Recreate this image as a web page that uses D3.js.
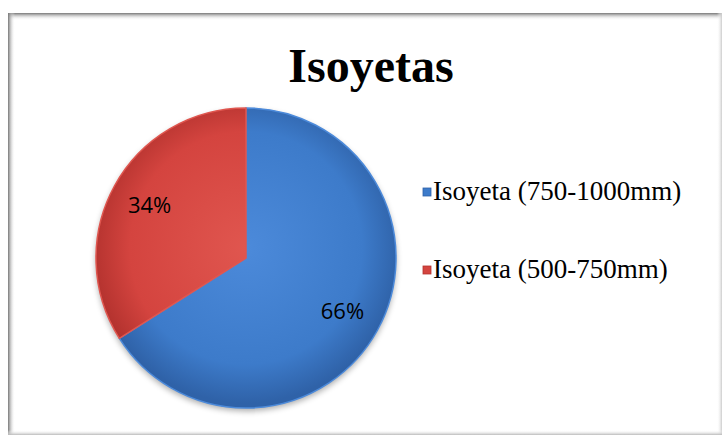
<!doctype html>
<html>
<head>
<meta charset="utf-8">
<title>Isoyetas</title>
<style>
  body { margin: 0; background: #fff; }
  .serif { font-family: "Liberation Serif", Tinos, "Nimbus Roman", "Nimbus Roman No9 L", Times, FreeSerif, "Noto Serif", "DejaVu Serif", serif; }
</style>
</head>
<body>
<script src="https://d3js.org/d3.v7.min.js"></script>
<script>
// data
var categories = ["Isoyeta (750-1000mm)", "Isoyeta (500-750mm)"];
var values = [66, 34];
var pctLabels = ["66%", "34%"];
var colors = ["#3d7bca", "#d4443f"];
var darkColors = ["#2f62a8", "#b3322e"];
var lightColors = ["#4c8ada", "#e0564f"];

var w = 722, h = 438;
var svg = d3.select("body").append("svg")
    .attr("width", w)
    .attr("height", h);

var defs = svg.append("defs");

// frame shadow gradients
var gTop = defs.append("linearGradient").attr("id", "gTop")
    .attr("x1", 0).attr("y1", 0).attr("x2", 0).attr("y2", 1);
gTop.append("stop").attr("offset", "0%").attr("stop-color", "#777");
gTop.append("stop").attr("offset", "100%").attr("stop-color", "#fff").attr("stop-opacity", 0);
var gLeft = defs.append("linearGradient").attr("id", "gLeft")
    .attr("x1", 0).attr("y1", 0).attr("x2", 1).attr("y2", 0);
gLeft.append("stop").attr("offset", "0%").attr("stop-color", "#777");
gLeft.append("stop").attr("offset", "100%").attr("stop-color", "#fff").attr("stop-opacity", 0);
var gRight = defs.append("linearGradient").attr("id", "gRight")
    .attr("x1", 1).attr("y1", 0).attr("x2", 0).attr("y2", 0);
gRight.append("stop").attr("offset", "0%").attr("stop-color", "#ccc");
gRight.append("stop").attr("offset", "100%").attr("stop-color", "#fff").attr("stop-opacity", 0);
var gBot = defs.append("linearGradient").attr("id", "gBot")
    .attr("x1", 0).attr("y1", 1).attr("x2", 0).attr("y2", 0);
gBot.append("stop").attr("offset", "0%").attr("stop-color", "#bbb");
gBot.append("stop").attr("offset", "100%").attr("stop-color", "#fff").attr("stop-opacity", 0);

// frame
var fx = 8, fy = 13, fw = 714, fh = 422;
svg.append("rect").attr("x", fx).attr("y", fy).attr("width", fw).attr("height", fh).attr("fill", "#fff");
svg.append("rect").attr("x", fx).attr("y", fy).attr("width", fw).attr("height", 7).attr("fill", "url(#gTop)");
svg.append("rect").attr("x", fx).attr("y", fy).attr("width", 7).attr("height", fh).attr("fill", "url(#gLeft)");
svg.append("rect").attr("x", fx + fw - 5).attr("y", fy).attr("width", 5).attr("height", fh).attr("fill", "url(#gRight)");
svg.append("rect").attr("x", fx).attr("y", fy + fh - 5).attr("width", fw).attr("height", 5).attr("fill", "url(#gBot)");

// title
svg.append("text")
    .attr("class", "serif")
    .attr("x", 371)
    .attr("y", 82)
    .attr("text-anchor", "middle")
    .attr("font-weight", "bold")
    .attr("font-size", 48)
    .text("Isoyetas");

// pie
var cx = 246, cy = 258, r = 150;

// slice gradients (coordinates relative to the pie group)
values.forEach(function (v, i) {
    var g = defs.append("radialGradient").attr("id", "slice" + i)
        .attr("gradientUnits", "userSpaceOnUse")
        .attr("cx", 0).attr("cy", -10).attr("r", r + 5);
    g.append("stop").attr("offset", "0%").attr("stop-color", lightColors[i]);
    g.append("stop").attr("offset", "75%").attr("stop-color", colors[i]);
    g.append("stop").attr("offset", "100%").attr("stop-color", darkColors[i]);
});

var shadow = defs.append("filter").attr("id", "shadow")
    .attr("x", "-20%").attr("y", "-20%").attr("width", "140%").attr("height", "140%");
shadow.append("feGaussianBlur").attr("in", "SourceAlpha").attr("stdDeviation", 3);
shadow.append("feOffset").attr("dx", 0).attr("dy", 3).attr("result", "ob");
shadow.append("feComponentTransfer").append("feFuncA").attr("type", "linear").attr("slope", 0.35);
var merge = shadow.append("feMerge");
merge.append("feMergeNode");
merge.append("feMergeNode").attr("in", "SourceGraphic");

var pie = d3.pie().sort(null).value(function (d) { return d; });
var arc = d3.arc().innerRadius(0).outerRadius(r);
var labelArc = d3.arc().innerRadius(110).outerRadius(110);

var gPie = svg.append("g")
    .attr("transform", "translate(" + cx + "," + cy + ")");

var arcs = pie(values);

gPie.append("circle").attr("r", r).attr("fill", "#888").attr("filter", "url(#shadow)");

gPie.selectAll("path.slice")
    .data(arcs)
    .enter()
    .append("path")
    .attr("class", "slice")
    .attr("d", arc)
    .attr("fill", function (d, i) { return "url(#slice" + i + ")"; })
    .attr("stroke", function (d, i) { return lightColors[i]; })
    .attr("stroke-width", 1.5)
    .attr("stroke-linejoin", "round");

gPie.selectAll("text.pct")
    .data(arcs)
    .enter()
    .append("text")
    .attr("class", "pct")
    .attr("transform", function (d) { return "translate(" + labelArc.centroid(d) + ")"; })
    .attr("dy", "0.36em")
    .attr("text-anchor", "middle")
    .attr("font-family", "Open Sans, sans-serif")
    .attr("font-size", 22)
    .attr("fill", "#000")
    .text(function (d, i) { return pctLabels[i]; });

// legend
var legendY = d3.scalePoint().domain(categories).range([192, 270]);
var legend = svg.selectAll("g.legend")
    .data(categories)
    .enter()
    .append("g")
    .attr("class", "legend")
    .attr("transform", function (d) { return "translate(423," + legendY(d) + ")"; });

legend.append("rect")
    .attr("x", 0).attr("y", -4)
    .attr("width", 8).attr("height", 8)
    .attr("fill", function (d, i) { return colors[i]; })
    .attr("stroke", function (d, i) { return darkColors[i]; })
    .attr("stroke-width", 0.8);

legend.append("text")
    .attr("class", "serif")
    .attr("x", 10)
    .attr("y", 8)
    .attr("font-size", 27)
    .text(function (d) { return d; });
</script>
</body>
</html>
